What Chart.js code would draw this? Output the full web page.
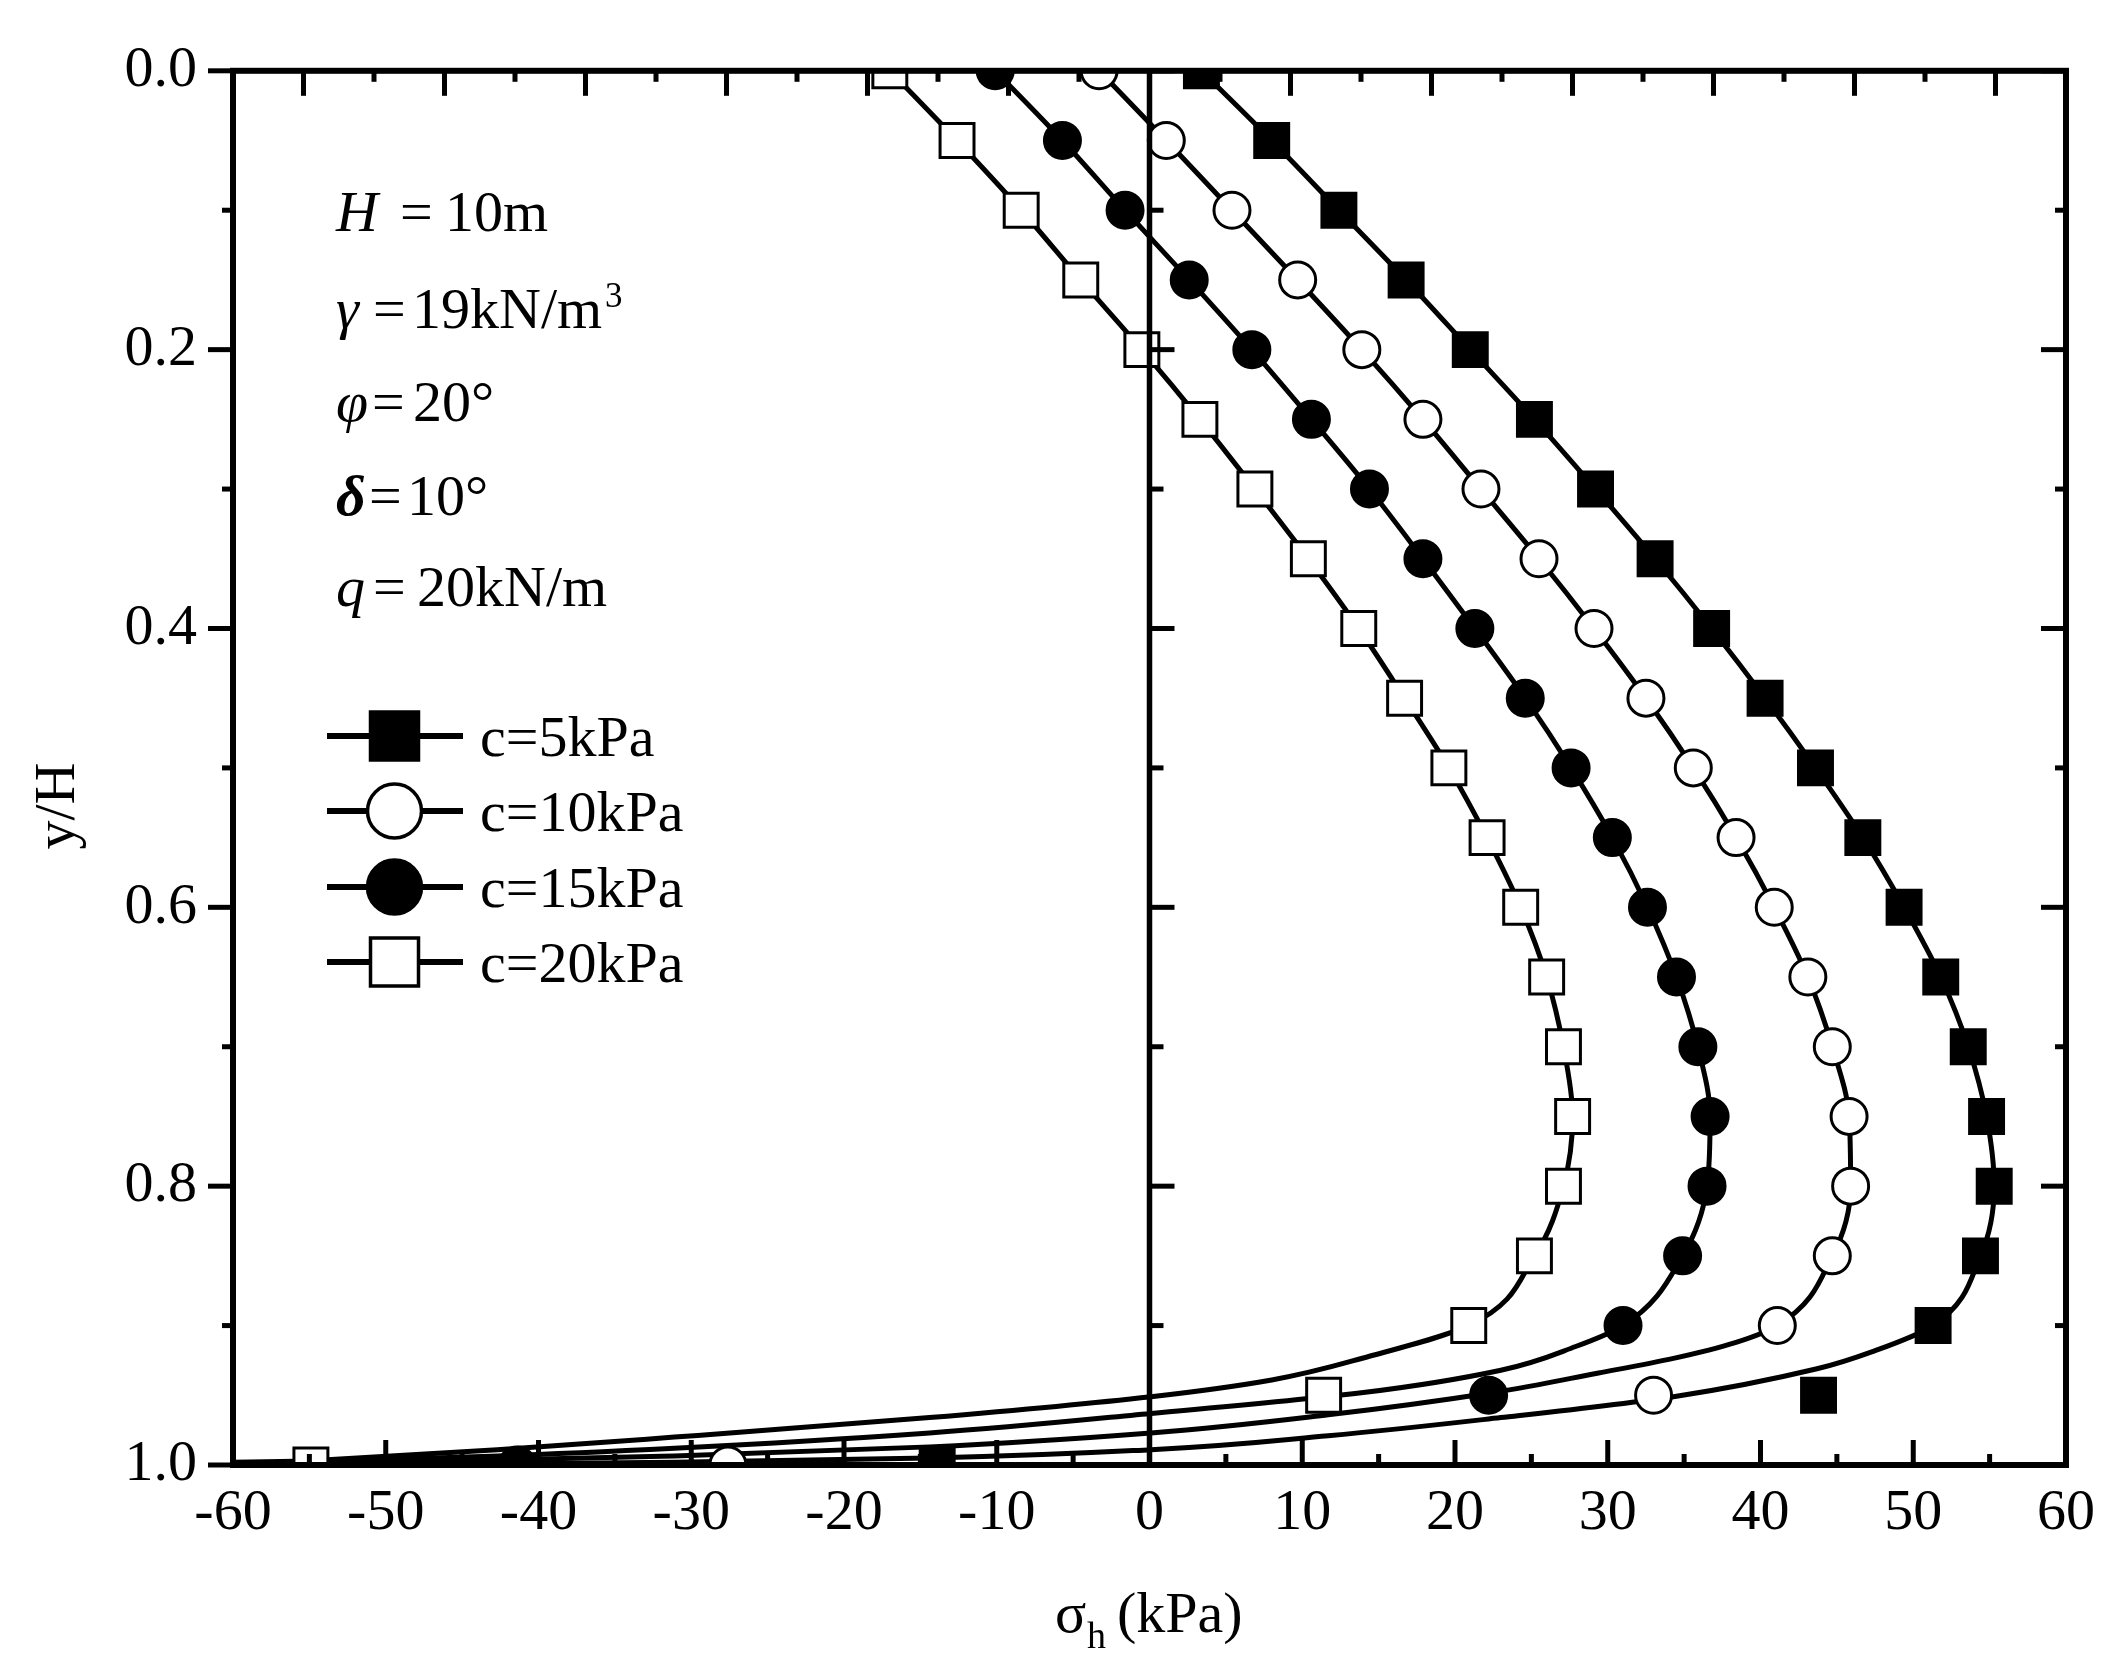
<!DOCTYPE html>
<html><head><meta charset="utf-8">
<script src="https://cdn.jsdelivr.net/npm/chart.js@4.4.1/dist/chart.umd.min.js"></script>
<style>html,body{margin:0;padding:0;background:#fff;}canvas{display:block;}</style>
</head><body>
<canvas id="c" width="2124" height="1675" style="width:2124px;height:1675px"></canvas>
<script>
// ---------------- data ----------------
const yLevels = [0,0.05,0.1,0.15,0.2,0.25,0.3,0.35,0.4,0.45,0.5,0.55,0.6,0.65,0.7,0.75,0.8,0.85,0.9,0.95,1.0];
const seriesLabels = ['c=5kPa','c=10kPa','c=15kPa','c=20kPa'];
// marker values (sigma_h, kPa) at each y/H level
const c5X  = [3.4, 8.0, 12.4, 16.8, 21.0, 25.2, 29.2, 33.1, 36.8, 40.3, 43.6, 46.7, 49.4, 51.8, 53.6, 54.8, 55.3, 54.4, 51.3, 43.8, -13.9];
const c10X = [-3.3, 1.1, 5.4, 9.7, 13.9, 17.9, 21.7, 25.5, 29.1, 32.5, 35.6, 38.4, 40.9, 43.1, 44.7, 45.8, 45.9, 44.7, 41.1, 33.0, -27.6];
const c15X = [-10.1, -5.7, -1.6, 2.6, 6.7, 10.6, 14.4, 17.9, 21.3, 24.6, 27.6, 30.3, 32.6, 34.5, 35.9, 36.7, 36.5, 34.9, 31.0, 22.2, -41.4];
const c20X = [-17.0, -12.6, -8.4, -4.5, -0.5, 3.3, 6.9, 10.4, 13.7, 16.7, 19.6, 22.1, 24.3, 26.0, 27.1, 27.7, 27.1, 25.2, 20.9, 11.4, -54.9];
// curve tails below y/H = 0.9
const c5TailX  = [47.5, 43.7, 34.3, 23.0, 11.7, 0.1, -14.4, -31.1, -50];
const c5TailY  = [0.918, 0.931, 0.951, 0.966, 0.979, 0.989, 0.995, 0.998, 1.0];
const c10TailX = [38.4, 34.3, 29.4, 22.5, 11.7, 0.1, -14.4, -31.1, -42.7, -60];
const c10TailY = [0.912, 0.9235, 0.934, 0.948, 0.964, 0.977, 0.987, 0.9935, 0.9965, 0.999];
const c15TailX = [27.9, 23.0, 14.0, 0.1, -14.4, -31.1, -42.7, -54, -60];
const c15TailY = [0.915, 0.932, 0.948, 0.963, 0.977, 0.988, 0.9935, 0.997, 0.998];
const c20TailX = [14.4, 8.0, 0.1, -14.4, -31.1, -42.7, -60];
const c20TailY = [0.922, 0.939, 0.951, 0.966, 0.980, 0.989, 1.0];
// axis ticks
const xTicks = [-60,-50,-40,-30,-20,-10,0,10,20,30,40,50,60];
const xMinorTicks = [-55,-45,-35,-25,-15,-5,5,15,25,35,45,55];
const topTicks = [-60,-50,-40,-30,-20,-10,0,10,20,30,40,50,60];
const topMinorTicks = [-65,-55,-45,-35,-25,-15,-5,5,15,25,35,45,55,65];
const yTicks = [0.0,0.2,0.4,0.6,0.8,1.0];
const yMinorTicks = [0.1,0.3,0.5,0.7,0.9];
const paramSymbols = ['H','γ','φ','δ','q'];
const paramValues = ['10m','19kN/m','20°','10°','20kN/m'];

// ---------------- build ----------------
const FONT = '"Liberation Serif","Times New Roman",serif';
const styles = [
  {pointStyle:'rect', filled:true},
  {pointStyle:'circle', filled:false},
  {pointStyle:'circle', filled:true},
  {pointStyle:'rect', filled:false}
];
const markerXs = [c5X, c10X, c15X, c20X];
const tailsX = [c5TailX, c10TailX, c15TailX, c20TailX];
const tailsY = [c5TailY, c10TailY, c15TailY, c20TailY];
const nUpper = 19; // levels 0 .. 0.9 lie on the curves

const datasets = [];
markerXs.forEach((xs, i) => {
  const st = styles[i];
  datasets.push({
    label: seriesLabels[i],
    data: xs.map((v, k) => ({x: v, y: yLevels[k]})),
    showLine: false,
    pointStyle: st.pointStyle,
    pointRadius: st.pointStyle === 'rect' ? 24 : 18,
    pointBorderWidth: 3,
    pointBorderColor: '#000',
    pointBackgroundColor: st.filled ? '#000' : '#fff',
    order: 0
  });
});
markerXs.forEach((xs, i) => {
  const pts = xs.slice(0, nUpper).map((v, k) => ({x: v, y: yLevels[k]}))
    .concat(tailsX[i].map((v, k) => ({x: v, y: tailsY[i][k]})));
  datasets.push({
    label: seriesLabels[i] + ' curve',
    data: pts,
    indexAxis: 'y',
    showLine: true,
    borderColor: '#000',
    borderWidth: 5,
    pointRadius: 0,
    cubicInterpolationMode: 'monotone',
    fill: false,
    order: 1
  });
});

const framePlugin = {
  id: 'frame',
  afterDatasetsDraw(chart) {
    const {ctx, chartArea: a, scales} = chart;
    const xs = scales.x, ys = scales.y, xt = scales.x2;
    ctx.save();
    ctx.strokeStyle = '#000';
    ctx.lineCap = 'butt';
    const seg = (x1, y1, x2, y2, w) => { ctx.lineWidth = w; ctx.beginPath(); ctx.moveTo(x1, y1); ctx.lineTo(x2, y2); ctx.stroke(); };
    const MAJ = 25, MIN = 11, TW = 5;
    xTicks.forEach(v => { const p = xs.getPixelForValue(v); seg(p, a.bottom, p, a.bottom - MAJ, TW); });
    xMinorTicks.forEach(v => { const p = xs.getPixelForValue(v); seg(p, a.bottom, p, a.bottom - MIN, TW); });
    topTicks.forEach(v => { const p = xt.getPixelForValue(v); seg(p, a.top, p, a.top + MAJ, TW); });
    topMinorTicks.forEach(v => { const p = xt.getPixelForValue(v); seg(p, a.top, p, a.top + MIN, TW); });
    const x0 = xs.getPixelForValue(0);
    yTicks.forEach(v => { const p = ys.getPixelForValue(v);
      seg(a.left, p, a.left - MAJ, p, TW); seg(a.right, p, a.right - MAJ, p, TW); seg(x0, p, x0 + MAJ, p, TW); });
    yMinorTicks.forEach(v => { const p = ys.getPixelForValue(v);
      seg(a.left, p, a.left - MIN, p, TW); seg(a.right, p, a.right - MIN, p, TW); seg(x0, p, x0 + 14, p, TW); });
    seg(x0, a.top, x0, a.bottom, 5.5);
    ctx.lineWidth = 6;
    ctx.strokeRect(a.left, a.top, a.right - a.left, a.bottom - a.top);
    ctx.restore();
  }
};

const textPlugin = {
  id: 'texts',
  afterDraw(chart) {
    const ctx = chart.ctx;
    ctx.save();
    ctx.fillStyle = '#000';
    ctx.textBaseline = 'alphabetic';
    ctx.textAlign = 'left';
    const bases = [231, 328, 421, 515, 606];
    const eqX = [400, 373, 372, 369, 373];
    const valX = [445, 412, 413, 407, 417];
    paramSymbols.forEach((s, i) => {
      ctx.font = (s === 'δ' ? 'italic bold ' : 'italic ') + '58px ' + FONT;
      ctx.fillText(s, 336, bases[i]);
      ctx.font = '58px ' + FONT;
      ctx.fillText('=', eqX[i], bases[i]);
      ctx.fillText(paramValues[i], valX[i], bases[i]);
      if (i === 1) {
        const w = ctx.measureText(paramValues[i]).width;
        ctx.font = '35px ' + FONT;
        ctx.fillText('3', valX[i] + w + 3, bases[i] - 21);
      }
    });
    const rows = [736, 811, 887, 962];
    seriesLabels.forEach((lab, i) => {
      const y = rows[i];
      ctx.strokeStyle = '#000';
      ctx.lineWidth = 6;
      ctx.beginPath(); ctx.moveTo(327, y); ctx.lineTo(463, y); ctx.stroke();
      const st = styles[i];
      ctx.beginPath();
      if (st.pointStyle === 'rect') ctx.rect(394.5 - 24, y - 24, 48, 48);
      else ctx.arc(394.5, y, 27, 0, Math.PI * 2);
      ctx.fillStyle = st.filled ? '#000' : '#fff';
      ctx.fill();
      ctx.lineWidth = 3.5; ctx.stroke();
      ctx.fillStyle = '#000';
      ctx.font = '58px ' + FONT;
      ctx.fillText(lab, 480, y + 20);
    });
    ctx.font = '58px ' + FONT;
    ctx.fillText('σ', 1055, 1632);
    ctx.font = '38px ' + FONT;
    ctx.fillText('h', 1087, 1648);
    ctx.font = '58px ' + FONT;
    ctx.fillText('(kPa)', 1117, 1632);
    ctx.translate(74, 806);
    ctx.rotate(-Math.PI / 2);
    ctx.textAlign = 'center';
    ctx.fillText('y/H', 0, 0);
    ctx.restore();
  }
};

new Chart(document.getElementById('c'), {
  type: 'scatter',
  data: {datasets},
  options: {
    responsive: false,
    animation: false,
    devicePixelRatio: 1,
    layout: {padding: {top: 65, right: 58, left: 0, bottom: 0}},
    plugins: {legend: {display: false}, tooltip: {enabled: false}},
    scales: {
      x: {
        type: 'linear', position: 'bottom', min: -60, max: 60,
        afterBuildTicks: s => { s.ticks = xTicks.map(v => ({value: v})); },
        afterFit: s => { s.height = 210; },
        grid: {display: false, drawTicks: false},
        border: {display: false},
        ticks: {color: '#000', padding: 14, maxRotation: 0, font: {family: FONT, size: 58}, callback: v => String(v)}
      },
      x2: {
        type: 'linear', position: 'top', min: -65, max: 65,
        afterFit: s => { s.height = 0; },
        grid: {display: false, drawTicks: false},
        border: {display: false},
        ticks: {display: false}
      },
      y: {
        type: 'linear', position: 'left', min: 0, max: 1, reverse: true,
        afterBuildTicks: s => { s.ticks = yTicks.map(v => ({value: v})); },
        afterFit: s => { s.width = 233; },
        grid: {display: false, drawTicks: false},
        border: {display: false},
        ticks: {color: '#000', padding: 36, font: {family: FONT, size: 58}, callback: v => Number(v).toFixed(1)}
      }
    }
  },
  plugins: [framePlugin, textPlugin]
});
</script>
</body></html>
